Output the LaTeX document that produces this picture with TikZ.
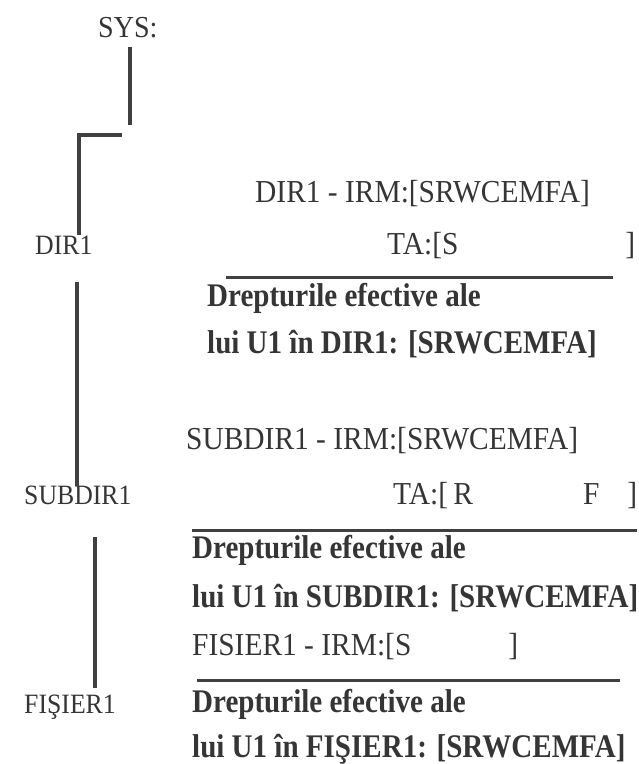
\documentclass[tikz,border=0pt]{standalone}
\usepackage{fontspec}
\setmainfont{Liberation Serif}[FakeStretch=0.92]
\newfontfamily\boldfam{Liberation Serif}[FakeStretch=0.88]
\definecolor{ink}{HTML}{353535}
\definecolor{lineink}{HTML}{404040}
\begin{document}
\begin{tikzpicture}[x=1pt,y=-1pt,
  txt/.style={inner sep=0pt, anchor=base west, text=ink, font=\fontsize{32}{34}\selectfont},
  boldtxt/.style={inner sep=0pt, anchor=base west, text=ink, font=\boldfam\fontsize{33}{35}\selectfont\bfseries},
  lbl/.style={inner sep=0pt, anchor=base west, text=ink, font=\fontsize{28}{30}\selectfont},
  tree/.style={draw=lineink, line width=3.5pt, line join=miter},
  rulel/.style={draw=lineink, line width=3pt}]
\useasboundingbox (0,0) rectangle (639,764);

% left tree
\node[txt, font=\fontsize{30.5}{32}\selectfont] (sys) at (98,37) {SYS:};
\node[lbl] (dir) at (35,254) {DIR1};
\node[lbl] (subdir) at (24,504) {SUBDIR1};
\node[lbl] (fis) at (24,713) {FIŞIER1};

\coordinate (t1a) at (130,47);
\coordinate (t1b) at (130,125);
\coordinate (t2a) at (122,135);
\coordinate (t2c) at (79,135);
\coordinate (t2b) at (79,235);
\coordinate (t3a) at (77,282);
\coordinate (t3b) at (77,486);
\coordinate (t4a) at (95,537);
\coordinate (t4b) at (95,688);
\draw[tree] (t1a) -- (t1b);
\draw[tree] (t2a) -- (t2c) -- (t2b);
\draw[tree] (t3a) -- (t3b);
\draw[tree] (t4a) -- (t4b);

% group DIR1
\node[txt] (irm1) at (255,202) {DIR1 - IRM:[SRWCEMFA]};
\node[txt] (ta1) at (387,254) {\hbox to 248pt{TA:[S\hfil]}};
\coordinate (r1a) at (226,277);
\coordinate (r1b) at (613,277);
\draw[rulel] (r1a) -- (r1b);
\node[boldtxt] (d1) at (207,306) {Drepturile efective ale};
\node[boldtxt] (e1) at (207,353) {lui U1 în DIR1: [SRWCEMFA]};

% group SUBDIR1
\node[txt] (irm2) at (186,449) {SUBDIR1 - IRM:[SRWCEMFA]};
\node[txt] (ta2) at (393,504) {\hbox to 244pt{TA:[\,R\hfil F\hspace{28pt}]}};
\coordinate (r2a) at (192,530);
\coordinate (r2b) at (637,530);
\draw[rulel] (r2a) -- (r2b);
\node[boldtxt] (d2) at (192,558) {Drepturile efective ale};
\node[boldtxt] (e2) at (192,607) {lui U1 în SUBDIR1: [SRWCEMFA]};

% group FISIER1
\node[txt] (irm3) at (192,655) {\hbox to 326pt{FISIER1 - IRM:[S\hfil]}};
\coordinate (r3a) at (197,680);
\coordinate (r3b) at (620,680);
\draw[rulel] (r3a) -- (r3b);
\node[boldtxt] (d3) at (192,712) {Drepturile efective ale};
\node[boldtxt] (e3) at (192,757) {lui U1 în FIŞIER1: [SRWCEMFA]};
\end{tikzpicture}
\end{document}
